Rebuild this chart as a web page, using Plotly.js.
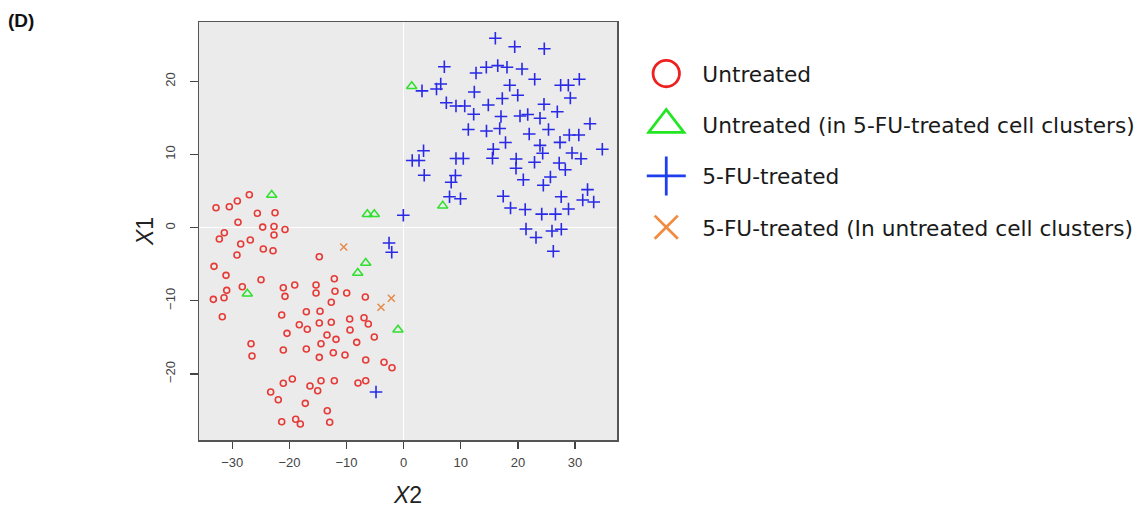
<!DOCTYPE html>
<html>
<head>
<meta charset="utf-8">
<script src="https://cdn.plot.ly/plotly-3.0.1.min.js"></script>
<style>
  html, body { margin: 0; padding: 0; background: #ffffff; }
  #chart { width: 1138px; height: 508px; }
</style>
</head>
<body>
<div id="chart"></div>
<script>
// Series names
const seriesNames = [
  "Untreated",
  "Untreated (in 5-FU-treated cell clusters)",
  "5-FU-treated",
  "5-FU-treated (In untreated cell clusters)"
];

// Untreated (red circles): X2 values and X1 values
const untreatedX2 = [-32.85, -30.52, -29.12, -27.02, -25.62, -22.52, -29.0, -24.68, -22.70, -20.77,
  -31.40, -32.27, -26.85, -28.53, -22.70, -24.57, -22.87, -29.18, -14.77, -33.20,
  -31.10, -24.97, -12.14, -28.25, -30.98, -21.07, -19.07, -15.34, -33.32, -31.45,
  -20.77, -15.34, -12.02, -9.97, -6.71, -12.67, -31.75, -21.35, -17.04, -14.64,
  -18.27, -16.87, -14.77, -12.67, -9.45, -6.94, -6.19, -9.39, -20.42, -13.42,
  -11.84, -5.14, -8.22, -14.47, -26.72, -26.55, -21.07, -17.04, -14.77, -12.32,
  -10.27, -6.64, -3.44, -2.04, -19.49, -21.07, -23.28, -21.95, -16.40, -14.47,
  -15.05, -12.14, -7.99, -6.64, -17.22, -13.37, -21.35, -18.90, -18.09, -12.95];
const untreatedX1 = [2.73, 2.87, 3.65, 4.51, 1.97, 2.05, 0.75, 0.08, 0.16, -0.25,
  -0.68, -1.54, -1.68, -2.23, -1.00, -2.91, -3.14, -3.73, -3.96, -5.28,
  -6.51, -7.11, -6.97, -8.07, -8.56, -8.20, -7.83, -7.83, -9.79, -9.57,
  -9.38, -8.93, -8.69, -8.93, -9.47, -10.20, -12.17, -11.93, -11.48, -11.43,
  -13.26, -13.89, -13.03, -12.93, -12.48, -12.30, -13.16, -13.98, -14.44, -14.67,
  -15.26, -14.94, -15.67, -15.86, -15.86, -17.54, -16.72, -16.58, -17.72, -17.09,
  -17.40, -18.09, -18.40, -19.14, -20.68, -21.27, -22.46, -23.51, -21.64, -20.92,
  -22.28, -20.92, -21.23, -20.92, -24.01, -25.02, -26.52, -26.19, -26.84, -26.60];

// Untreated in 5-FU-treated clusters (green triangles)
const untreatedInFuX2 = [-23.10, -6.36, -5.14, 1.41, 6.84, -27.37, -6.64, -8.04, -0.99];
const untreatedInFuX1 = [4.47, 1.83, 1.83, 19.33, 2.99, -9.02, -4.83, -6.19, -13.94];

// 5-FU-treated (blue plus)
const fuX2 = [16.05, 19.44, 24.62, 7.12, 12.67, 14.47, 16.47, 18.09, 20.72, 22.94,
  30.75, 27.49, 28.83, 18.57, 6.49, 5.75, 3.21, 12.37, 19.97, 17.27,
  29.18, 7.47, 9.16, 10.69, 14.82, 24.57, 26.90, 12.26, 17.04, 20.37,
  21.72, 23.87, 32.62, 11.32, 14.50, 16.82, 25.36, 21.98, 29.00, 30.66,
  17.83, 27.37, 34.78, 3.48, 1.50, 2.69, 15.69, 15.55, 9.16, 10.44,
  23.87, 24.34, 19.70, 19.67, 22.91, 29.47, 31.05, 27.23, 28.30, 3.60,
  9.06, 8.32, 20.95, 25.69, 24.45, 32.19, 31.35, 33.27, 8.03, 9.95,
  17.43, 27.58, 18.71, 21.28, 24.17, 26.57, 28.86, -0.06, 21.42, 23.17,
  25.97, 27.60, 26.20, -2.56, -2.09, -4.84];
const fuX1 = [25.89, 24.74, 24.47, 22.01, 21.15, 21.93, 22.15, 21.93, 21.70, 20.29,
  20.29, 19.47, 19.47, 19.47, 19.64, 18.96, 18.71, 18.55, 18.10, 17.66,
  17.73, 17.09, 16.64, 16.64, 16.77, 16.87, 15.86, 15.50, 15.20, 15.27,
  15.48, 14.97, 14.22, 13.42, 13.22, 13.56, 13.42, 12.81, 12.67, 12.67,
  11.65, 11.67, 10.73, 10.53, 9.19, 9.19, 10.73, 9.49, 9.46, 9.46,
  11.26, 10.17, 9.39, 8.12, 8.95, 10.21, 9.43, 8.84, 7.93, 7.18,
  7.14, 6.22, 6.55, 6.93, 5.81, 5.21, 3.79, 3.51, 4.24, 3.95,
  4.31, 4.24, 2.69, 2.49, 1.85, 1.85, 2.56, 1.71, -0.18, -1.34,
  -0.45, -0.21, -3.21, -2.09, -3.36, -22.46];

// 5-FU-treated in untreated clusters (orange x)
const fuInUntreatedX2 = [-10.50, -2.16, -3.97];
const fuInUntreatedX1 = [-2.64, -9.65, -10.88];

// Axis ticks
const tickVals = [-30, -20, -10, 0, 10, 20, 30];
const tickText = ["\u221230", "\u221220", "\u221210", "0", "10", "20", "30"];
const yTickVals = [-20, -10, 0, 10, 20];
const yTickText = ["\u221220", "\u221210", "0", "10", "20"];

const FONT = "Liberation Sans, Arial, Helvetica, sans-serif";
const LEGEND_FONT = "DejaVu Sans, Liberation Sans, Arial, sans-serif";

const traces = [
  {
    x: untreatedX2, y: untreatedX1, name: seriesNames[0], legendgroup: "a",
    type: "scatter", mode: "markers",
    marker: { symbol: "circle-open", size: 6, color: "#e53a36", line: { width: 1.6, color: "#e53a36" } }
  },
  {
    x: untreatedInFuX2, y: untreatedInFuX1, name: seriesNames[1], legendgroup: "b",
    type: "scatter", mode: "markers",
    marker: { symbol: "triangle-up-open", size: 9, color: "#2fe02f", line: { width: 1.5, color: "#2fe02f" } }
  },
  {
    x: fuX2, y: fuX1, name: seriesNames[2], legendgroup: "c",
    type: "scatter", mode: "markers",
    marker: { symbol: "cross-thin-open", size: 9, color: "#2a2ae6", line: { width: 1.6, color: "#2a2ae6" } }
  },
  {
    x: fuInUntreatedX2, y: fuInUntreatedX1, name: seriesNames[3], legendgroup: "d",
    type: "scatter", mode: "markers",
    marker: { symbol: "x-thin-open", size: 7, color: "#e58a4c", line: { width: 1.5, color: "#e58a4c" } }
  }
];

// legend symbol display scale (visual only)
const legendSymbolScale = [4.4, 3.4, 3.1, 3.3];
const legendSymbolColor = ["#ee2020", "#22e622", "#1f3fee", "#f28a40"];

const layout = {
  width: 1138, height: 508,
  margin: { l: 199, r: 521, t: 22, b: 68, pad: 0, autoexpand: false },
  paper_bgcolor: "#ffffff",
  plot_bgcolor: "#ebebeb",
  font: { family: FONT, color: "#333333" },
  showlegend: true,
  legend: {
    x: 1.07, xanchor: "left", y: 0.926, yanchor: "top",
    font: { family: LEGEND_FONT, size: 21.7, color: "#1a1a1a" },
    tracegroupgap: 20, itemsizing: "trace", itemwidth: 46, bgcolor: "rgba(0,0,0,0)"
  },
  xaxis: {
    range: [-35.83, 37.35], autorange: false,
    tickmode: "array", tickvals: tickVals, ticktext: tickText,
    ticks: "outside", ticklen: 7, tickwidth: 1.2, tickcolor: "#444444",
    ticklabelstandoff: 3,
    tickfont: { family: FONT, size: 13, color: "#444444" },
    showgrid: false, zeroline: true, zerolinecolor: "#ffffff", zerolinewidth: 1,
    showline: true, mirror: true, linecolor: "#555555", linewidth: 1.5,
    title: { text: "<i>X</i>2", font: { family: FONT, size: 23, color: "#222222" }, standoff: 22 }
  },
  yaxis: {
    range: [-29.02, 28.12], autorange: false,
    tickmode: "array", tickvals: yTickVals, ticktext: yTickText, tickangle: -90,
    ticks: "outside", ticklen: 8, tickwidth: 1.2, tickcolor: "#444444",
    ticklabelstandoff: 9,
    tickfont: { family: FONT, size: 13, color: "#444444" },
    showgrid: false, zeroline: true, zerolinecolor: "#ffffff", zerolinewidth: 1,
    showline: true, mirror: true, linecolor: "#555555", linewidth: 1.5,
    title: { text: "<i>X</i>1", font: { family: FONT, size: 23, color: "#222222" }, standoff: 3 }
  },
  annotations: [
    {
      text: "<b>(D)</b>", xref: "paper", yref: "paper",
      x: -0.462, xanchor: "left", y: 1.003, yanchor: "middle",
      showarrow: false, font: { family: FONT, size: 19, color: "#111111" }
    }
  ]
};

Plotly.newPlot("chart", traces, layout, { staticPlot: true, displayModeBar: false }).then(function (gd) {
  // enlarge legend symbols to match the reference's large key glyphs
  const groups = gd.querySelectorAll(".legend .traces");
  groups.forEach(function (g, i) {
    const k = legendSymbolScale[i] || 3;
    g.querySelectorAll("path.scatterpts").forEach(function (p) {
      p.setAttribute("transform", "translate(20,0) scale(" + k + ")");
      p.style.vectorEffect = "non-scaling-stroke";
      p.style.strokeWidth = "2.8px";
      p.style.stroke = legendSymbolColor[i];
    });
  });
});
</script>
</body>
</html>
